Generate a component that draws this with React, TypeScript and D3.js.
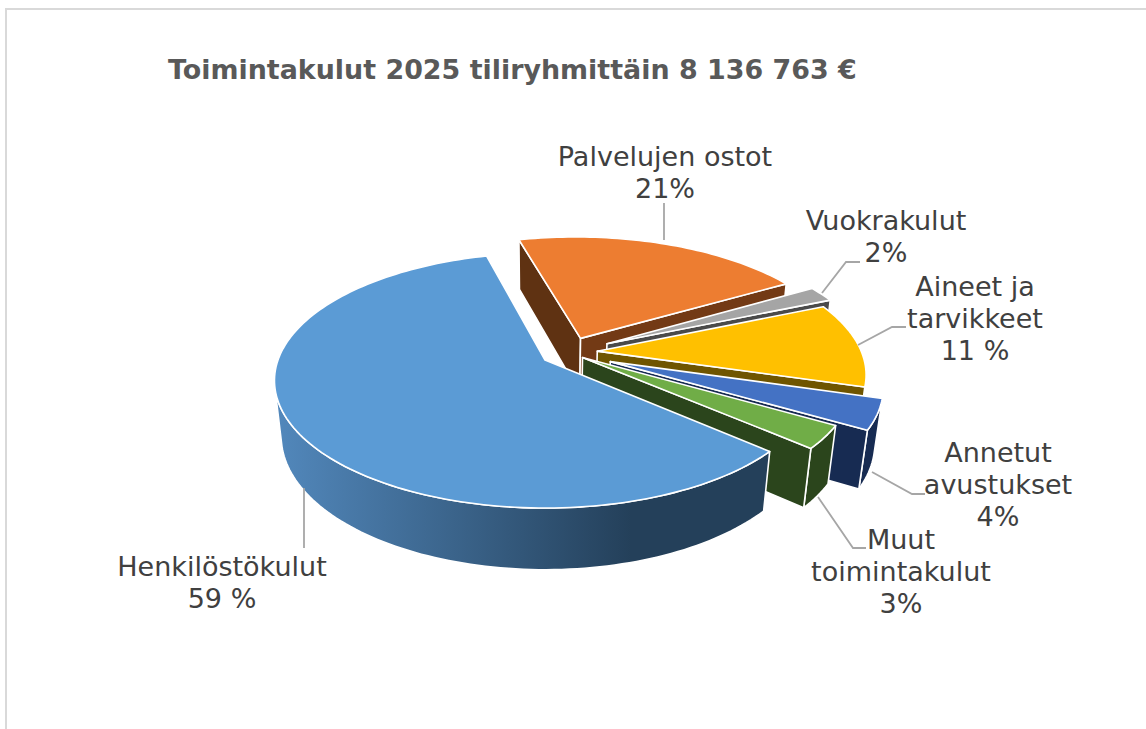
import React from "react";
import * as d3 from "d3";

const categories = ["Henkilöstökulut", "Palvelujen ostot", "Vuokrakulut", "Aineet ja tarvikkeet", "Annetut avustukset", "Muut toimintakulut"];
const shares = [59.49, 20.71, 2.0, 10.9, 3.9, 3.0];
const shareLabels = ["59 %", "21%", "2%", "11 %", "4%", "3%"];
const topColors = ["#5b9bd5", "#ed7d31", "#a5a5a5", "#ffc000", "#4472c4", "#70ad47"];
const wallColors = ["#24405a", "#733a15", "#4a4a4a", "#6f5500", "#172b52", "#2b451c"];
const startWallColors = ["#24405a", "#5f3212", "#4a4a4a", "#6f5500", "#172b52", "#2b451c"];
const title = "Toimintakulut 2025 tiliryhmittäin 8 136 763 €";

// how far each slice is pulled out, in pie radii
const pullX = [0, 0.137, 0.237, 0.198, 0.244, 0.141];
const pullY = [0, -0.179, -0.134, -0.072, 0.013, -0.02];

// label layout: centre x, first baseline, name lines, leader line
const labelLayout = [
  { x: 222, y: 576, lines: ["Henkilöstökulut"], leader: [[304, 488], [304, 548]] },
  { x: 665, y: 166, lines: ["Palvelujen ostot"], leader: [[664, 203], [664, 240]] },
  { x: 886, y: 230, lines: ["Vuokrakulut"], leader: [[822, 293], [846, 262], [860, 262]] },
  { x: 975, y: 296, lines: ["Aineet ja", "tarvikkeet"], leader: [[858, 345], [892, 327], [906, 327]] },
  { x: 998, y: 462, lines: ["Annetut", "avustukset"], leader: [[872, 472], [912, 494], [925, 494]] },
  { x: 901, y: 549, lines: ["Muut", "toimintakulut"], leader: [[818, 497], [853, 548], [866, 548]] },
];

// perspective of the pie plane
const ox = 545, oy = 360, sx = 267, sy = 124.2, persp = 0.161, depth = 57, shrink = 0.025;

const project = (x: number, y: number, z: number): [number, number] => {
  const w = 1 - persp * y + shrink * z;
  return [ox + (sx * x) / w, oy + (sy * y + depth * z) / w];
};

const closed = d3.line().curve(d3.curveLinearClosed);
const open = d3.line();

const area = (pts: [number, number][]) => d3.polygonArea(pts);

export default function App() {
  const arcs = d3
    .pie<number>()
    .sort(null)
    .startAngle((131.2 * Math.PI) / 180)
    .endAngle((491.2 * Math.PI) / 180)(shares);

  const slices = arcs.map((a, i) => {
    const px = pullX[i];
    const py = pullY[i];
    const n = Math.max(4, Math.ceil((a.endAngle - a.startAngle) * 40));
    const angles = d3.range(n + 1).map((k) => a.startAngle + ((a.endAngle - a.startAngle) * k) / n);
    const rim = angles.map((t) => [px + Math.sin(t), py - Math.cos(t)]);
    const at = (p: number[], z: number) => project(p[0], p[1], z);
    const apex = [px, py];
    const top = [at(apex, 0), ...rim.map((p) => at(p, 0))];

    // radial walls, kept only if they face the viewer
    const startWall = { pts: [at(apex, 0), at(rim[0], 0), at(rim[0], 1), at(apex, 1)] as [number, number][], fill: startWallColors[i] };
    const endWall = { pts: [at(rim[n], 0), at(apex, 0), at(apex, 1), at(rim[n], 1)] as [number, number][], fill: wallColors[i] };
    const walls = [startWall, endWall].filter((q) => area(q.pts) > 0);

    // outer wall: only the part of the rim that faces the viewer
    const front = rim.filter((p, k) => {
      const q = rim[Math.min(k + 1, n)];
      const r = rim[Math.max(k - 1, 0)];
      return area([at(r, 0), at(q, 0), at(q, 1), at(r, 1)]) > 0;
    });
    const outer = front.length > 1 ? [...front.map((p) => at(p, 0)), ...front.slice().reverse().map((p) => at(p, 1))] : null;
    return { i, top, walls, outer };
  });

  // paint back to front: the big slice sits in front of all the others
  const order = [1, 2, 3, 4, 5, 0];

  return (
    <svg width={1146} height={729} style={{ position: "absolute", left: 0, top: 0, background: "#fff" }}>
      <defs>
        <linearGradient id="henkWall" gradientUnits="userSpaceOnUse" x1={275} x2={770} y1={0} y2={0}>
          <stop offset="0" stopColor="#5288bc" />
          <stop offset="0.72" stopColor="#24405a" />
          <stop offset="1" stopColor="#24405a" />
        </linearGradient>
      </defs>
      <path d="M6,729V9H1146" fill="none" stroke="#d9d9d9" strokeWidth={2} />
      <text x={168} y={79} fontFamily="DejaVu Sans" fontWeight="bold" fontSize={26.9} fill="#595959">
        {title}
      </text>

      {order.map((idx) => {
        const s = slices[idx];
        return (
          <g key={categories[idx]} stroke="#fff" strokeWidth={1.6} strokeLinejoin="round">
            {s.outer && <path d={closed(s.outer) ?? ""} fill={idx === 0 ? "url(#henkWall)" : wallColors[idx]} />}
            {s.walls.map((q, k) => (
              <path key={k} d={closed(q.pts) ?? ""} fill={q.fill} />
            ))}
            <path d={closed(s.top) ?? ""} fill={topColors[idx]} />
          </g>
        );
      })}

      {labelLayout.map((l, i) => (
        <g key={categories[i]}>
          <path d={open(l.leader as [number, number][]) ?? ""} fill="none" stroke="#a6a6a6" strokeWidth={1.8} />
          <text textAnchor="middle" fontFamily="DejaVu Sans" fontSize={27} fill="#404040">
            {[...l.lines, shareLabels[i]].map((t, k) => (
              <tspan key={k} x={l.x} y={l.y + k * 32}>
                {t}
              </tspan>
            ))}
          </text>
        </g>
      ))}
    </svg>
  );
}
